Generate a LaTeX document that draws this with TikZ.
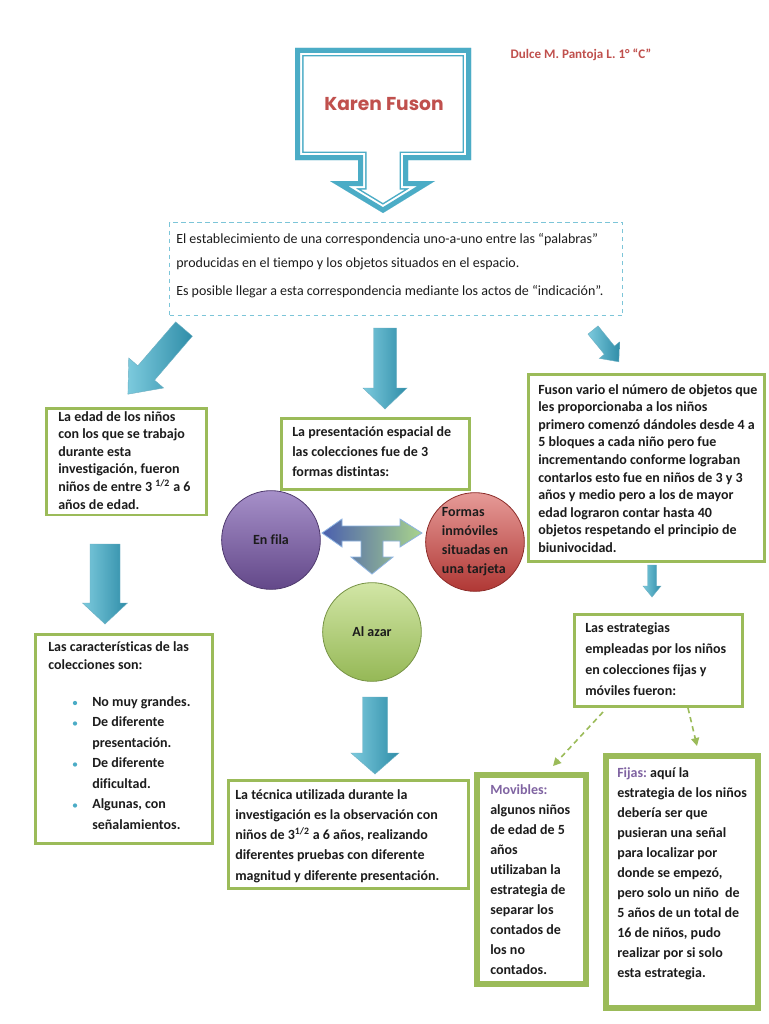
\documentclass[tikz,border=0pt]{standalone}
\usepackage{fontspec}
\setmainfont{Carlito}[Ligatures=NoCommon]
\newfontfamily\titlefont{Poppins}
\usetikzlibrary{arrows.meta}
\definecolor{aq}{HTML}{4BACC6}
\definecolor{aqlight}{HTML}{A9DDEB}
\definecolor{aqmid}{HTML}{7CCADD}
\definecolor{aqdark}{HTML}{2F8DA8}
\definecolor{dashaq}{HTML}{7CC5D8}
\definecolor{gb}{HTML}{9BBB59}
\definecolor{rd}{HTML}{C0504D}
\definecolor{pu}{HTML}{8064A2}
\definecolor{ink}{HTML}{1C1C1C}
\definecolor{puL}{HTML}{A690C9}
\definecolor{puD}{HTML}{634889}
\definecolor{rdL}{HTML}{E69A97}
\definecolor{rdD}{HTML}{B03835}
\definecolor{grL}{HTML}{D2E6A6}
\definecolor{grD}{HTML}{95B856}
\definecolor{tL}{HTML}{4A5FAE}
\definecolor{tM}{HTML}{D8CCE6}
\definecolor{tR}{HTML}{A9D48C}
\definecolor{tB}{HTML}{8DB3E2}
\newcommand\boxfont[1]{\fontsize{10.5}{#1}\selectfont\bfseries}
\newcommand\barrow[6]{%
  \begin{scope}[shift={(#1)}, rotate=#2]
    \shade[arrowshade] (0,-#4) -- ({#3-#6},-#4) -- ({#3-#6},-#5) -- (#3,0)
      -- ({#3-#6},#5) -- ({#3-#6},#4) -- (0,#4) -- cycle;
  \end{scope}}
\newcommand\calloutpath{(295,48) -- (471,48) -- (471,160) -- (408,160) -- (408,181) -- (435,181)
  -- (383,213) -- (330,181) -- (358,181) -- (358,160) -- (295,160) -- cycle}
\begin{document}
\begin{tikzpicture}[x=0.75pt,y=-0.75pt,
  gbox/.style={draw=gb, line width=2pt, fill=white, rectangle, inner sep=0, anchor=north west},
  dgbox/.style={draw=gb, line width=3pt, fill=white, rectangle, inner sep=0, anchor=north west},
  txt/.style={anchor=north west, inner sep=0, align=left, text=ink},
  arrowshade/.style={left color=aqmid, middle color=aqlight, right color=aqdark, draw=aqdark!70, line width=0.3pt},
  ball/.style={circle, minimum size=74pt, inner sep=0, align=left, text=ink, font=\boxfont{14.3}, line width=0.6pt},
  bulletdot/.style={circle, fill=aq, inner sep=0, minimum size=3.2pt},
  gdash/.style={draw=gb, line width=1.2pt, dash pattern=on 4pt off 3pt, -{Triangle[width=6pt,length=6pt]}}
]
\useasboundingbox (0,0) rectangle (768,1024);
\fill[white] (0,0) rectangle (768,1024);

% title callout (thick outer band, thin inner line)
\begin{scope}
  \clip \calloutpath;
  \draw[aq, line width=12.75pt, line join=miter] \calloutpath;
  \draw[white, line width=10.5pt, line join=miter] \calloutpath;
  \draw[aq, line width=7.5pt, line join=miter] \calloutpath;
\end{scope}
\node[text=rd, font=\titlefont\bfseries\fontsize{14}{18}\selectfont] (title) at (384,104) {Karen Fuson};
\node[text=rd, font=\fontsize{9.8}{12}\selectfont\bfseries] (author) at (581,55) {Dulce M. Pantoja L. 1° “C”};

% dashed definition box
\node[draw=dashaq, line width=0.8pt, dash pattern=on 3.5pt off 2.5pt, rectangle, inner sep=0,
  minimum width=340pt, minimum height=70pt, anchor=north west] (D) at (169,222) {};
\node[txt, font=\fontsize{10.5}{18}\selectfont] (Dt) at (176,233)
  {El establecimiento de una correspondencia uno-a-uno entre las “palabras”\\
   producidas en el tiempo y los objetos situados en el espacio.\\[3pt]
   Es posible llegar a esta correspondencia mediante los actos de “indicación”.};

% block arrows
\coordinate (a1) at (184,329);
\coordinate (a2) at (385,328);
\coordinate (a3) at (593,330);
\coordinate (a4) at (105,544);
\coordinate (a5) at (375,697);
\coordinate (a6) at (652,565);
\barrow{a1}{-130.7}{86}{11}{23}{28}
\barrow{a2}{-90}{81}{11.5}{22}{21}
\barrow{a3}{-50.9}{41}{6.5}{13}{15}
\barrow{a4}{-90}{80}{15}{22.5}{21}
\barrow{a5}{-90}{77}{12.5}{24}{21}
\barrow{a6}{-90}{32}{4.5}{9}{11}

% left top box
\node[gbox, minimum width=120pt, minimum height=80pt] (B1) at (45,407) {};
\node[txt, font=\boxfont{13.2}] (B1t) at (58,411)
  {La edad de los niños\\con los que se trabajo\\durante esta\\investigación, fueron\\niños de entre 3 \textsuperscript{1/2} a 6\\años de edad.};

% left bottom box
\node[gbox, minimum width=132.75pt, minimum height=156.75pt] (B2) at (34,633) {};
\node[txt, font=\boxfont{13.8}] (B2t) at (48,641)
  {Las características de las\\colecciones son:};
\node[txt, font=\boxfont{15.4}] (B2l) at (92,696)
  {No muy grandes.\\De diferente\\presentación.\\De diferente\\dificultad.\\Algunas, con\\señalamientos.};
\node[bulletdot] (d1) at (75,703) {};
\node[bulletdot] (d2) at (75,723.5) {};
\node[bulletdot] (d3) at (75,764.5) {};
\node[bulletdot] (d4) at (75,805.5) {};

% center box
\node[gbox, minimum width=141pt, minimum height=53.25pt] (C1) at (280,417) {};
\node[txt, font=\boxfont{15}] (C1t) at (292,426)
  {La presentación espacial de\\las colecciones fue de 3\\formas distintas:};

% circles
\node[ball, top color=puL, bottom color=puD, draw=puD!80!black] (fila) at (271,540) {En fila};
\node[ball, top color=rdL, bottom color=rdD, draw=rdD!80!black] (formas) at (475,542)
  {Formas\\inmóviles\\situadas en\\una tarjeta};
\node[ball, top color=grL, bottom color=grD, draw=grD!80!black] (azar) at (372,632) {Al azar};

% T-shaped three-way connector
\shade[left color=tL, middle color=tM, right color=tR, draw=tB, line width=0.6pt]
  (322,533) -- (342,519) -- (342,526) -- (400,526) -- (400,519) -- (422,533)
  -- (400,547) -- (400,541) -- (383,541) -- (383,557) -- (393,557) -- (372,574)
  -- (351,557) -- (361,557) -- (361,541) -- (342,541) -- (342,547) -- cycle;

% bottom center box
\node[gbox, minimum width=180pt, minimum height=81pt] (C2) at (227,779) {};
\node[txt, font=\boxfont{15.2}] (C2t) at (235,789)
  {La técnica utilizada durante la\\investigación es la observación con\\niños de 3\textsuperscript{1/2} a 6 años, realizando\\diferentes pruebas con diferente\\magnitud y diferente presentación.};

% right top box
\node[gbox, minimum width=177pt, minimum height=140.25pt] (R1) at (527,373) {};
\node[txt, font=\boxfont{13.2}] (R1t) at (538,384)
  {Fuson vario el número de objetos que\\les proporcionaba a los niños\\primero comenzó dándoles desde 4 a\\5 bloques a cada niño pero fue\\incrementando conforme lograban\\contarlos esto fue en niños de 3 y 3\\años y medio pero a los de mayor\\edad lograron contar hasta 40\\objetos respetando el principio de\\biunivocidad.};

% right strategies box
\node[gbox, minimum width=126pt, minimum height=69pt] (R2) at (573,613) {};
\node[txt, font=\boxfont{15.75}] (R2t) at (585,622)
  {Las estrategias\\empleadas por los niños\\en colecciones fijas y\\móviles fueron:};

% dashed green arrows
\coordinate (g1s) at (603,712);
\coordinate (g1e) at (553,766);
\coordinate (g2s) at (688,708);
\coordinate (g2e) at (697,746);
\draw[gdash] (g1s) -- (g1e);
\draw[gdash] (g2s) -- (g2e);

% Movibles box
\node[dgbox, minimum width=83.25pt, minimum height=158.25pt] (Mov) at (474,772) {};
\draw[gb, line width=1pt] ([shift={(5,5)}]Mov.north west) rectangle ([shift={(-5,-5)}]Mov.south east);
\node[txt, font=\boxfont{15}] (Movt) at (490,784)
  {\textcolor{pu}{Movibles:}\\algunos niños\\de edad de 5\\años\\utilizaban la\\estrategia de\\separar los\\contados de\\los no\\contados.};

% Fijas box
\node[dgbox, minimum width=115.5pt, minimum height=190.5pt] (Fij) at (603,753) {};
\draw[gb, line width=1pt] ([shift={(5,5)}]Fij.north west) rectangle ([shift={(-5,-5)}]Fij.south east);
\node[txt, font=\boxfont{15}] (Fijt) at (617,767)
  {\textcolor{pu}{Fijas:}~aquí la\\estrategia de los niños\\debería ser que\\pusieran una señal\\para localizar por\\donde se empezó,\\pero solo un niño~ de\\5 años de un total de\\16 de niños, pudo\\realizar por si solo\\esta estrategia.};
\end{tikzpicture}
\end{document}
